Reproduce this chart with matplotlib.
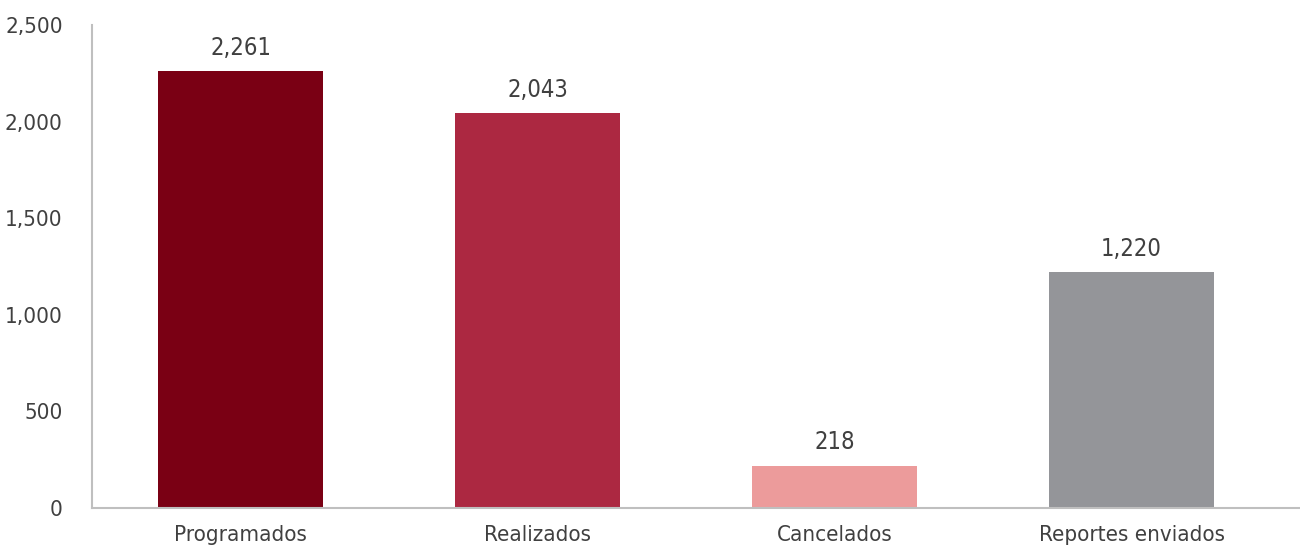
import matplotlib
matplotlib.use('Agg')
from matplotlib import pyplot as plt
from matplotlib.ticker import FuncFormatter

# datos
categorias = ['Programados', 'Realizados', 'Cancelados', 'Reportes enviados']
valores = [2261, 2043, 218, 1220]
colores = ['#7a0014', '#ac2841', '#ec9b9b', '#949599']

plt.rcParams['font.family'] = ['DejaVu Sans']
plt.rcParams['font.stretch'] = 'condensed'
texto = '#404040'

fig = plt.figure(figsize=(13, 5.49), dpi=100)
ax = fig.add_axes([92 / 1300, 1 - 508 / 549, 1 - 92 / 1300, (508 - 25) / 549])

x = range(len(categorias))
bars = ax.bar(x, valores, width=0.556, color=colores)
for b, v in zip(bars, valores):
    ax.text(b.get_x() + b.get_width() / 2, v + 60, '{:,}'.format(v),
            ha='center', va='bottom', fontsize=17, color=texto)

ax.set_xlim(-0.5, 3.567)
ax.set_ylim(0, 2500)
ax.set_yticks(range(0, 2501, 500))
ax.yaxis.set_major_formatter(FuncFormatter(lambda v, p: '{:,}'.format(int(v))))
ax.set_xticks(list(x))
ax.set_xticklabels(categorias)
ax.tick_params(axis='both', length=0, labelsize=16, colors=texto)
ax.tick_params(axis='y', pad=21)
ax.tick_params(axis='x', pad=12)

for s in ['top', 'right']:
    ax.spines[s].set_visible(False)
for s in ['left', 'bottom']:
    ax.spines[s].set_color('#bfbfbf')
    ax.spines[s].set_linewidth(1.5)

fig.savefig('out.png', dpi=100)
